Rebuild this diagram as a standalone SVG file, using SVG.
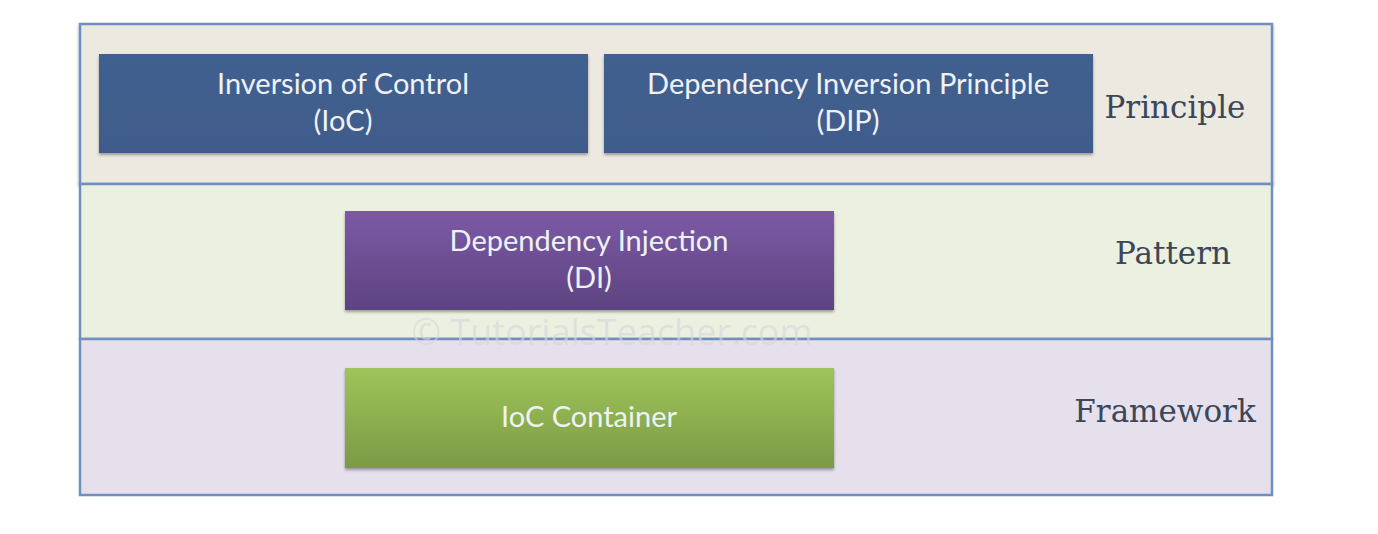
<svg xmlns="http://www.w3.org/2000/svg" width="1378" height="534" viewBox="0 0 1378 534">
<style>
.band{stroke:#6f8fc0;stroke-width:2.5}
.lbl{font-family:"DejaVu Serif","Liberation Serif",serif;font-size:31px;fill:#3b4658;text-anchor:middle}
.bt{font-family:Lato,"Open Sans",sans-serif;font-size:29px;fill:#eef2f6;text-anchor:middle}
.wm{font-family:"Open Sans",Lato,sans-serif;font-size:36px;fill:#d8d4dc;text-anchor:middle;opacity:0.6}
</style>
<defs>
<linearGradient id="gBlue" x1="0" y1="0" x2="0" y2="1"><stop offset="0" stop-color="#41608f"/><stop offset="1" stop-color="#3e5c8b"/></linearGradient>
<linearGradient id="gPurple" x1="0" y1="0" x2="0" y2="1"><stop offset="0" stop-color="#7c5aa6"/><stop offset="1" stop-color="#5d4380"/></linearGradient>
<linearGradient id="gGreen" x1="0" y1="0" x2="0" y2="1"><stop offset="0" stop-color="#9fc45a"/><stop offset="1" stop-color="#7c9a45"/></linearGradient>
<filter id="sh" x="-5%" y="-10%" width="110%" height="130%"><feDropShadow dx="0" dy="2" stdDeviation="1.5" flood-color="#000" flood-opacity="0.35"/></filter>
</defs>
<rect width="1378" height="534" fill="#ffffff"/>
<g id="layers">
<rect class="band" x="80" y="24" width="1192" height="160" fill="#ece9e1" filter="url(#sh)"/>
<rect class="band" x="80" y="184" width="1192" height="155" fill="#ebf0e0"/>
<rect class="band" x="80" y="339" width="1192" height="156" fill="#e5e0ec"/>
</g>
<text class="wm" x="612" y="345">© TutorialsTeacher.com</text>
<g id="label-principle"><text class="lbl" x="1175" y="118">Principle</text></g>
<g id="label-pattern"><text class="lbl" x="1173" y="264">Pattern</text></g>
<g id="label-framework"><text class="lbl" x="1165" y="422">Framework</text></g>
<g id="ioc">
<rect x="99" y="54" width="489" height="99" fill="url(#gBlue)" filter="url(#sh)"/>
<text class="bt" x="343" y="94">Inversion of Control</text>
<text class="bt" x="343" y="131">(IoC)</text>
</g>
<g id="dip">
<rect x="604" y="54" width="489" height="99" fill="url(#gBlue)" filter="url(#sh)"/>
<text class="bt" x="848" y="94">Dependency Inversion Principle</text>
<text class="bt" x="848" y="131">(DIP)</text>
</g>
<g id="di">
<rect x="345" y="211" width="489" height="99" fill="url(#gPurple)" filter="url(#sh)"/>
<text class="bt" x="589" y="251">Dependency Injection</text>
<text class="bt" x="589" y="288">(DI)</text>
</g>
<g id="ioc-container">
<rect x="345" y="368" width="489" height="100" fill="url(#gGreen)" filter="url(#sh)"/>
<text class="bt" x="589" y="427">IoC Container</text>
</g>
<g id="connectors"></g>
</svg>
